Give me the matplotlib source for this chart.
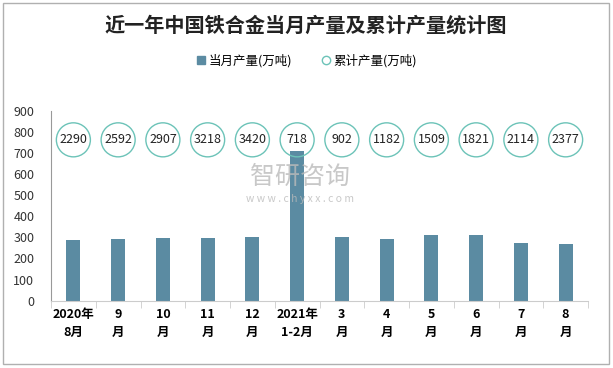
import matplotlib
matplotlib.use("Agg")
import matplotlib.pyplot as plt
from matplotlib.patches import Rectangle
from matplotlib.lines import Line2D
import numpy as np

plt.rcParams["font.family"] = ["Noto Sans CJK SC", "DejaVu Sans"]

# ── данные ──────────────────────────────────────────────
categories = ["2020年\n8月", "9\n月", "10\n月", "11\n月", "12\n月", "2021年\n1-2月",
              "3\n月", "4\n月", "5\n月", "6\n月", "7\n月", "8\n月"]
monthly = [288, 292, 297, 297, 302, 710, 302, 292, 311, 311, 273, 268]
cumulative = [2290, 2592, 2907, 3218, 3420, 718, 902, 1182, 1509, 1821, 2114, 2377]

BAR_COLOR = "#5b8ba2"
CIRCLE_EDGE = "#6cc3b8"
CIRCLE_LEVEL = 762   # положение кружков по оси Y

W, H = 613, 368
fig = plt.figure(figsize=(W / 100, H / 100), dpi=100)
fig.patches.append(Rectangle((3 / W, 1 - 364 / H), 606 / W, 361 / H,
                             transform=fig.transFigure, fill=False,
                             edgecolor="#b0b0b0", linewidth=1))

ax = fig.add_axes([51 / W, 1 - 300.7 / H, 537 / W, 190 / H])
x = np.arange(len(categories))
ax.bar(x, monthly, width=0.31, color=BAR_COLOR, zorder=2)

ax.scatter(x, [CIRCLE_LEVEL] * len(x), s=600, facecolor="none",
           edgecolor=CIRCLE_EDGE, linewidth=1.0, zorder=3)
for xi, v in zip(x, cumulative):
    ax.text(xi, CIRCLE_LEVEL, str(v), ha="center", va="center",
            fontsize=9, color="#222222", zorder=4)

ax.set_xlim(-0.5, len(x) - 0.5)
ax.set_ylim(0, 900)
ax.set_yticks(range(0, 901, 100))
ax.tick_params(axis="y", length=0, labelsize=9, colors="#333333", pad=12)
ax.set_xticks(x)
ax.set_xticklabels(categories, fontsize=9, fontweight="bold", linespacing=1.5)
ax.tick_params(axis="x", length=0, pad=5)
ax.set_xticks(np.arange(-0.5, len(x), 1), minor=True)
ax.tick_params(axis="x", which="minor", length=5, color="#cccccc", direction="out")

for s in ["top", "right"]:
    ax.spines[s].set_visible(False)
ax.spines["left"].set_color("#999999")
ax.spines["bottom"].set_color("#cccccc")

# водяной знак
fig.text(300 / W, 1 - 177 / H, "智研咨询", fontsize=18, color="#bbbbbb",
         ha="center", va="center", alpha=0.8)
fig.text(300 / W, 1 - 199 / H, "w w w . c h y x x . c o m", fontsize=7.5,
         color="#bbbbbb", ha="center", va="center", alpha=0.8)

fig.text(306 / W, 1 - 25 / H, "近一年中国铁合金当月产量及累计产量统计图",
         fontsize=14.5, fontweight="bold", ha="center", va="center", color="#222222")

handles = [
    Line2D([], [], linestyle="none", marker="s", markersize=6,
           markerfacecolor=BAR_COLOR, markeredgecolor=BAR_COLOR),
    Line2D([], [], linestyle="none", marker="o", markersize=6,
           markerfacecolor="white", markeredgecolor=CIRCLE_EDGE),
]
fig.legend(handles, ["当月产量(万吨)", "累计产量(万吨)"], loc="center",
           bbox_to_anchor=(306 / W, 1 - 61 / H), ncol=2, frameon=False,
           fontsize=9, handletextpad=0.1, columnspacing=2.2, handlelength=1)

fig.savefig("out.png", dpi=100)
